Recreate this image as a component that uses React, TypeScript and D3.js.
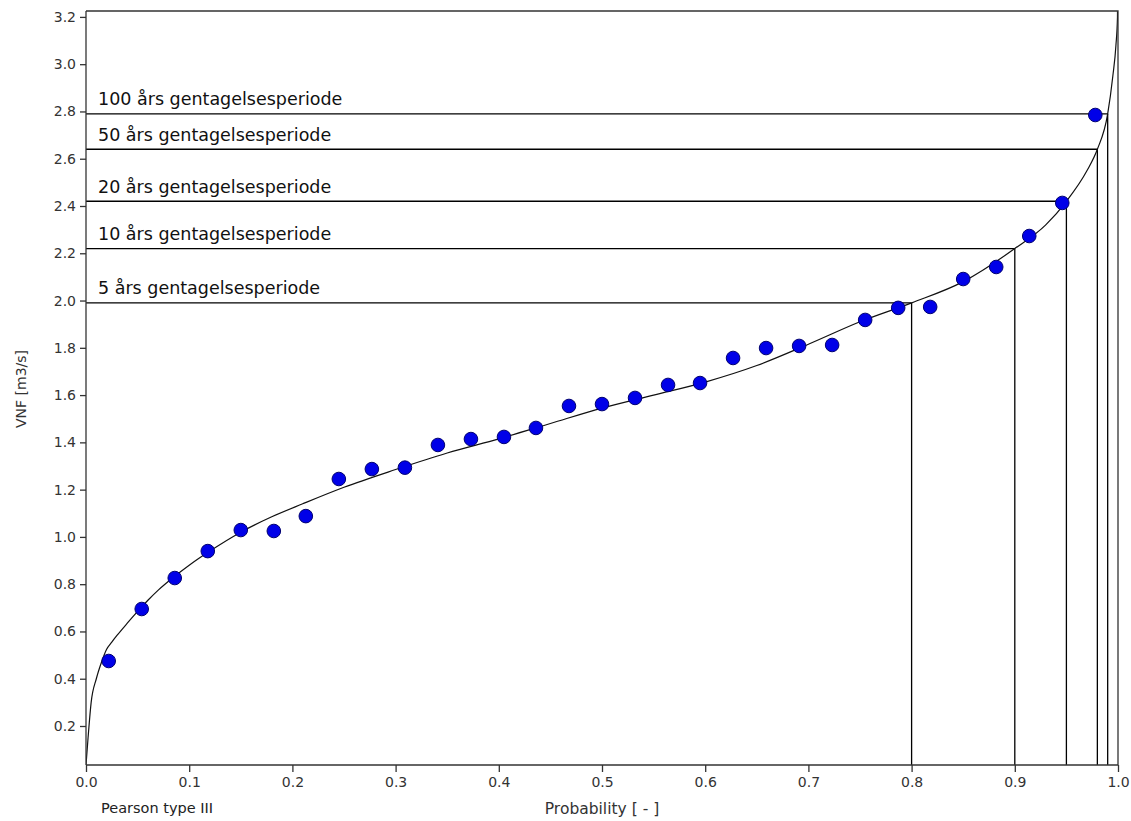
import React from "react";
import { useRef, useEffect } from "react";
import { select, scaleLinear, line, curveMonotoneX, axisLeft, axisBottom, format } from "d3";

// observed values, median rank plotting positions
const obsProb = [
  0.022, 0.054, 0.086, 0.118, 0.150, 0.182, 0.213, 0.245, 0.277, 0.309, 0.341,
  0.373, 0.405, 0.436, 0.468, 0.500, 0.532, 0.564, 0.595, 0.627, 0.659, 0.691,
  0.723, 0.755, 0.787, 0.818, 0.850, 0.882, 0.914, 0.946, 0.978,
];
const obsVnf = [
  0.475, 0.695, 0.826, 0.94, 1.029, 1.025, 1.088, 1.245, 1.287, 1.293, 1.389,
  1.414, 1.423, 1.461, 1.554, 1.562, 1.588, 1.643, 1.651, 1.757, 1.799, 1.808,
  1.812, 1.918, 1.969, 1.973, 2.091, 2.142, 2.273, 2.413, 2.785,
];

// fitted Pearson III curve
const curveProb = [
  0, 0.002, 0.005, 0.01, 0.015, 0.02, 0.025, 0.03, 0.04, 0.05, 0.06, 0.07, 0.085,
  0.1, 0.12, 0.15, 0.18, 0.21, 0.25, 0.3, 0.35, 0.4, 0.45, 0.5, 0.55, 0.6, 0.65,
  0.7, 0.75, 0.8, 0.85, 0.9, 0.93, 0.95, 0.97, 0.98, 0.99, 0.995, 0.998, 0.9995, 1.0,
];
const curveVnf = [
  0.035, 0.15, 0.3, 0.4, 0.47, 0.525, 0.555, 0.583, 0.635, 0.685, 0.732, 0.775, 0.83,
  0.88, 0.94, 1.02, 1.085, 1.14, 1.21, 1.285, 1.355, 1.415, 1.48, 1.545, 1.6,
  1.655, 1.725, 1.815, 1.91, 1.99, 2.08, 2.22, 2.32, 2.42, 2.55, 2.64, 2.79,
  2.95, 3.08, 3.2, 3.6,
];

// return periods
const periodLabels = [
  "5 års gentagelsesperiode",
  "10 års gentagelsesperiode",
  "20 års gentagelsesperiode",
  "50 års gentagelsesperiode",
  "100 års gentagelsesperiode",
];
const periodProb = [0.8, 0.9, 0.95, 0.98, 0.99];
const periodVnf = [1.99, 2.22, 2.42, 2.64, 2.79];

const yTicks = [0.2, 0.4, 0.6, 0.8, 1.0, 1.2, 1.4, 1.6, 1.8, 2.0, 2.2, 2.4, 2.6, 2.8, 3.0, 3.2];
const xTicks = [0, 0.1, 0.2, 0.3, 0.4, 0.5, 0.6, 0.7, 0.8, 0.9, 1.0];

const FONT = "'DejaVu Sans', sans-serif";

function App() {
  const svgRef = useRef(null);

  useEffect(() => {
    const width = 1131;
    const height = 821;
    const left = 86, right = 1118, top = 11, bottom = 765;

    const xScale = scaleLinear().domain([0, 1]).range([left, right]);
    const yScale = scaleLinear().domain([0.035, 3.225]).range([bottom, top]);

    const svg = select(svgRef.current);
    svg.selectAll("*").remove();
    svg.attr("width", width).attr("height", height).style("background", "#fff");

    svg.append("clipPath").attr("id", "plot-clip")
      .append("rect")
      .attr("x", left).attr("y", top)
      .attr("width", right - left).attr("height", bottom - top);

    // return period lines
    const g = svg.append("g");
    periodProb.forEach((p, i) => {
      const v = periodVnf[i];
      g.append("line")
        .attr("x1", left).attr("x2", xScale(p))
        .attr("y1", yScale(v)).attr("y2", yScale(v))
        .attr("stroke", "#000").attr("stroke-width", 1.3);
      g.append("line")
        .attr("x1", xScale(p)).attr("x2", xScale(p))
        .attr("y1", yScale(v)).attr("y2", bottom)
        .attr("stroke", "#000").attr("stroke-width", 1.3);
      g.append("text")
        .attr("x", left + 12)
        .attr("y", yScale(v) - 8.5)
        .attr("font-family", FONT)
        .attr("font-size", 17.5)
        .attr("fill", "#111")
        .text(periodLabels[i]);
    });

    // fitted curve
    const pts = curveProb.map((p, i) => [p, curveVnf[i]]);
    const path = line()
      .x((d) => xScale(d[0]))
      .y((d) => yScale(d[1]))
      .curve(curveMonotoneX);
    svg.append("path")
      .attr("d", path(pts))
      .attr("clip-path", "url(#plot-clip)")
      .attr("fill", "none")
      .attr("stroke", "#111")
      .attr("stroke-width", 1.2);

    // observations
    svg.append("g")
      .selectAll("circle")
      .data(obsProb.map((p, i) => [p, obsVnf[i]]))
      .join("circle")
      .attr("cx", (d) => xScale(d[0]))
      .attr("cy", (d) => yScale(d[1]))
      .attr("r", 6.8)
      .attr("fill", "#0000e8")
      .attr("stroke", "#000070")
      .attr("stroke-width", 1);

    // frame top / right
    svg.append("path")
      .attr("d", `M${left},${top}H${right}V${bottom}`)
      .attr("fill", "none")
      .attr("stroke", "#333")
      .attr("stroke-width", 1.3);

    // axes
    const yAxis = axisLeft(yScale).tickValues(yTicks).tickFormat(format(".1f")).tickSize(6).tickPadding(4).tickSizeOuter(0);
    const xAxis = axisBottom(xScale).tickValues(xTicks).tickFormat(format(".1f")).tickSize(7).tickPadding(5).tickSizeOuter(0);

    const ya = svg.append("g").attr("transform", `translate(${left},0)`).call(yAxis);
    const xa = svg.append("g").attr("transform", `translate(0,${bottom})`).call(xAxis);
    [ya, xa].forEach((a) => {
      a.selectAll("path").attr("stroke", "#333").attr("stroke-width", 1.3);
      a.selectAll("line").attr("stroke", "#333").attr("stroke-width", 1.3);
      a.selectAll("text").attr("font-family", FONT).attr("font-size", 14).attr("fill", "#333");
    });
    ya.select(".domain").attr("d", `M0,${top}V${bottom}`);
    xa.select(".domain").attr("d", `M${left},0H${right}`);

    // titles
    svg.append("text")
      .attr("transform", `translate(26,389) rotate(-90)`)
      .attr("text-anchor", "middle")
      .attr("font-family", FONT)
      .attr("font-size", 14)
      .attr("fill", "#333")
      .text("VNF [m3/s]");
    svg.append("text")
      .attr("x", (left + right) / 2)
      .attr("y", 814)
      .attr("text-anchor", "middle")
      .attr("font-family", FONT)
      .attr("font-size", 15.5)
      .attr("fill", "#333")
      .text("Probability [ - ]");
    svg.append("text")
      .attr("x", 101)
      .attr("y", 813)
      .attr("font-family", FONT)
      .attr("font-size", 14.5)
      .attr("fill", "#222")
      .text("Pearson type III");
  }, []);

  return (
    <React.Fragment>
      <style>{`body{margin:0}`}</style>
      <svg ref={svgRef} style={{ display: "block" }} />
    </React.Fragment>
  );
}

export default App;
